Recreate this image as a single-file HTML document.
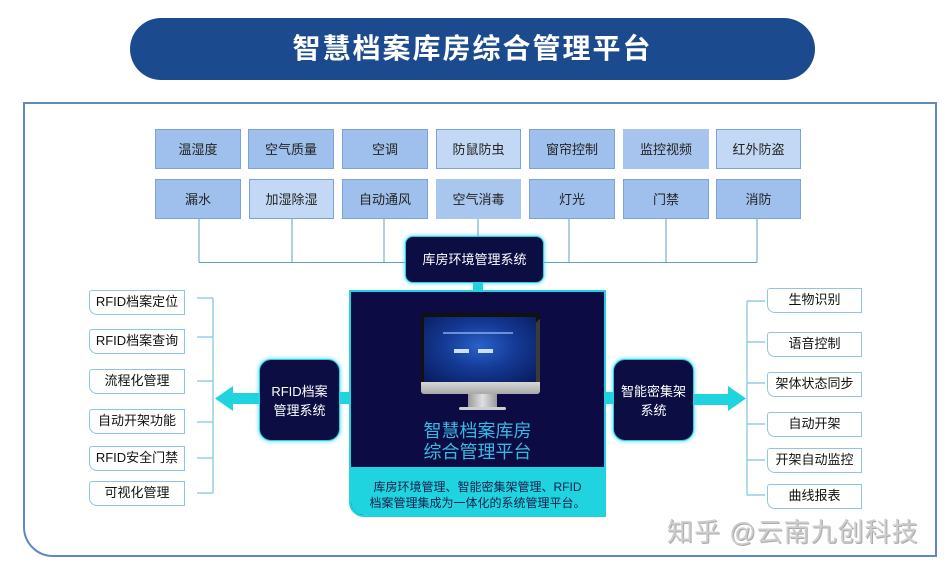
<!DOCTYPE html>
<html><head><meta charset="utf-8">
<style>
*{margin:0;padding:0;box-sizing:border-box}
body{width:948px;height:573px;background:#fff;position:relative;overflow:hidden;font-family:"Liberation Sans","Noto Sans CJK SC","WenQuanYi Zen Hei",sans-serif}
.a{position:absolute}
.banner{left:130px;top:18px;width:685px;height:62px;background:#1b4a8f;border-radius:31px;color:#fff;font-size:28px;font-weight:bold;text-align:center;line-height:62px;letter-spacing:2px}
.frame{left:23px;top:102px;width:914px;height:455px;border:2px solid #5f86c8;border-radius:0 0 0 30px}
.tb{position:absolute;height:40px;line-height:39px;text-align:center;font-size:13px;color:#222;border:1px solid #7da3d6;background:#9fc0ec}
.lt{background:#c3d8f5}
.nb{border-color:transparent}
.dk{position:absolute;background:#0c0d42;color:#fff;border:1px solid #2ccfe0;box-shadow:0 0 4px #2bd6e6;font-size:13px;text-align:center}
.li{position:absolute;width:96px;height:25px;border:1.5px solid #8dc6e0;border-radius:3px 0 0 8px;background:#fff;font-size:13px;color:#111;text-align:center;line-height:22px}
.ri{position:absolute;width:95px;height:25px;border:1.5px solid #8dc6e0;border-radius:3px 0 0 8px;background:#fff;font-size:13px;color:#111;text-align:center;line-height:22px}
</style></head><body>
<div class="a banner">智慧档案库房综合管理平台</div>
<div class="a frame"></div>

<svg class="a" style="left:0;top:0" width="948" height="573">
 <g stroke="#5f9fc8" stroke-width="1" fill="none">
  <line x1="199" y1="219" x2="199" y2="262.5"/>
  <line x1="292" y1="219" x2="292" y2="262.5"/>
  <line x1="384" y1="219" x2="384" y2="262.5"/>
  <line x1="478" y1="219" x2="478" y2="240"/>
  <line x1="569" y1="219" x2="569" y2="262.5"/>
  <line x1="666" y1="219" x2="666" y2="262.5"/>
  <line x1="757" y1="219" x2="757" y2="262.5"/>
  <line x1="199" y1="262.5" x2="757" y2="262.5"/>
 </g>
 <g stroke="#7cc3dc" stroke-width="1.2" fill="none">
  <line x1="213" y1="298" x2="213" y2="493"/>
  <line x1="197" y1="298" x2="213" y2="298"/>
  <line x1="197" y1="337" x2="213" y2="337"/>
  <line x1="197" y1="381" x2="213" y2="381"/>
  <line x1="197" y1="422" x2="213" y2="422"/>
  <line x1="197" y1="458" x2="213" y2="458"/>
  <line x1="197" y1="493" x2="213" y2="493"/>
  <line x1="747" y1="301" x2="747" y2="495"/>
  <line x1="747" y1="301" x2="765" y2="301"/>
  <line x1="747" y1="342" x2="765" y2="342"/>
  <line x1="747" y1="383" x2="765" y2="383"/>
  <line x1="747" y1="424" x2="765" y2="424"/>
  <line x1="747" y1="460" x2="765" y2="460"/>
  <line x1="747" y1="495" x2="765" y2="495"/>
 </g>
 <g fill="#1fd3df">
  <rect x="473" y="282" width="10" height="10"/>
  <rect x="232" y="393" width="30" height="11"/>
  <polygon points="233,386 233,411 215,398.5"/>
  <rect x="338" y="392" width="13" height="12"/>
  <rect x="604" y="392" width="11" height="12"/>
  <rect x="692" y="394" width="37" height="11"/>
  <polygon points="728,386 728,411 746,398.5"/>
 </g>
</svg>

<div class="tb" style="left:155px;top:129px;width:86px">温湿度</div>
<div class="tb" style="left:248px;top:129px;width:86px">空气质量</div>
<div class="tb" style="left:342px;top:129px;width:86px">空调</div>
<div class="tb lt" style="left:436px;top:129px;width:85px">防鼠防虫</div>
<div class="tb" style="left:529px;top:129px;width:86px">窗帘控制</div>
<div class="tb nb" style="left:623px;top:129px;width:86px;background:#a6c4ee">监控视频</div>
<div class="tb lt" style="left:716px;top:129px;width:85px">红外防盗</div>
<div class="tb" style="left:155px;top:179px;width:86px">漏水</div>
<div class="tb lt" style="left:249px;top:179px;width:85px">加湿除湿</div>
<div class="tb" style="left:342px;top:179px;width:86px">自动通风</div>
<div class="tb nb" style="left:436px;top:179px;width:85px;background:#a9c6ef">空气消毒</div>
<div class="tb" style="left:529px;top:179px;width:86px">灯光</div>
<div class="tb" style="left:623px;top:179px;width:86px">门禁</div>
<div class="tb" style="left:716px;top:179px;width:85px">消防</div>

<div class="dk" style="left:405px;top:236px;width:139px;height:47px;border-radius:8px;line-height:45px">库房环境管理系统</div>

<div class="a" style="left:349px;top:290px;width:257px;height:227px;border:2px solid #1fd3df;border-radius:0 0 0 15px;background:#0c0b44;overflow:hidden">
 <div class="a" style="left:0;top:175px;width:253px;height:50px;background:#1fd3df"></div>
 <div class="a" style="left:0;top:187px;width:253px;text-align:center;font-size:12px;line-height:16px;color:#15204a">库房环境管理、智能密集架管理、RFID<br>档案管理集成为一体化的系统管理平台。</div>
 <div class="a" style="left:0;top:129px;width:253px;text-align:center;font-size:18px;line-height:21px;color:#39b9e0">智慧档案库房<br>综合管理平台</div>
 <div class="a" style="left:70px;top:21px;width:119px;height:71px;background:#111;border-radius:3px 3px 0 0"></div>
 <div class="a" style="left:150px;top:21px;width:39px;height:71px;background:linear-gradient(135deg,transparent 40%,#555 41%);opacity:.6;border-radius:0 3px 0 0"></div>
 <div class="a" style="left:73px;top:25px;width:112px;height:65px;background:radial-gradient(ellipse at 50% 45%,#2a62c8 0%,#143a96 45%,#0a1a5a 100%)"></div>
 <div class="a" style="left:92px;top:40px;width:70px;height:2px;background:#8fb4ee;opacity:.7"></div>
 <div class="a" style="left:103px;top:57px;width:15px;height:4px;background:#cfe0ff"></div>
 <div class="a" style="left:127px;top:57px;width:15px;height:4px;background:#cfe0ff"></div>
 <div class="a" style="left:70px;top:90px;width:119px;height:12px;background:linear-gradient(#d8d8d8,#a8a8a8);border-radius:0 0 3px 3px"></div>
 <div class="a" style="left:117px;top:102px;width:29px;height:14px;background:linear-gradient(90deg,#9a9a9a,#e0e0e0,#9a9a9a)"></div>
 <div class="a" style="left:108px;top:115px;width:47px;height:3px;background:#cfcfcf;border-radius:2px"></div>
</div>

<div class="dk" style="left:259px;top:359px;width:81px;height:82px;border-radius:12px;padding-top:22px;line-height:19px">RFID档案<br>管理系统</div>
<div class="dk" style="left:613px;top:359px;width:81px;height:82px;border-radius:12px;padding-top:22px;line-height:19px">智能密集架<br>系统</div>

<div class="li" style="left:89px;top:290px">RFID档案定位</div>
<div class="li" style="left:89px;top:329px">RFID档案查询</div>
<div class="li" style="left:89px;top:369px">流程化管理</div>
<div class="li" style="left:89px;top:409px">自动开架功能</div>
<div class="li" style="left:89px;top:446px">RFID安全门禁</div>
<div class="li" style="left:89px;top:481px">可视化管理</div>

<div class="ri" style="left:767px;top:288px">生物识别</div>
<div class="ri" style="left:767px;top:332px">语音控制</div>
<div class="ri" style="left:767px;top:372px">架体状态同步</div>
<div class="ri" style="left:767px;top:412px">自动开架</div>
<div class="ri" style="left:767px;top:448px">开架自动监控</div>
<div class="ri" style="left:767px;top:484px">曲线报表</div>

<div class="a" style="left:667px;top:516px;font-size:26px;line-height:32px;letter-spacing:1px;color:#cdcdcd;text-shadow:1px 1px 0 #aaa;white-space:nowrap;font-weight:normal">知乎 @云南九创科技</div>
</body></html>
